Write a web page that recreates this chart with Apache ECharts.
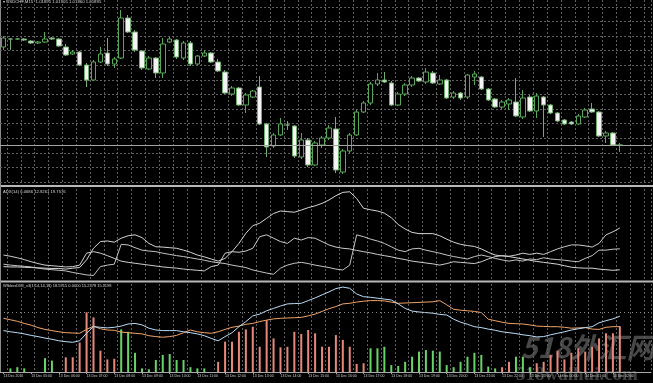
<!DOCTYPE html>
<html><head><meta charset="utf-8">
<script src="https://cdn.jsdelivr.net/npm/echarts@6/dist/echarts.min.js"></script>
<style>html,body{margin:0;padding:0;background:#000;overflow:hidden}#c{width:653px;height:383px}</style>
</head><body><div id="c"></div>
<script>
const categories = [
'13 Dec 04:00','13 Dec 04:15','13 Dec 04:30','13 Dec 04:45','13 Dec 05:00','13 Dec 05:15','13 Dec 05:30','13 Dec 05:45',
'13 Dec 06:00','13 Dec 06:15','13 Dec 06:30','13 Dec 06:45','13 Dec 07:00','13 Dec 07:15','13 Dec 07:30','13 Dec 07:45',
'13 Dec 08:00','13 Dec 08:15','13 Dec 08:30','13 Dec 08:45','13 Dec 09:00','13 Dec 09:15','13 Dec 09:30','13 Dec 09:45',
'13 Dec 10:00','13 Dec 10:15','13 Dec 10:30','13 Dec 10:45','13 Dec 11:00','13 Dec 11:15','13 Dec 11:30','13 Dec 11:45',
'13 Dec 12:00','13 Dec 12:15','13 Dec 12:30','13 Dec 12:45','13 Dec 13:00','13 Dec 13:15','13 Dec 13:30','13 Dec 13:45',
'13 Dec 14:00','13 Dec 14:15','13 Dec 14:30','13 Dec 14:45','13 Dec 15:00','13 Dec 15:15','13 Dec 15:30','13 Dec 15:45',
'13 Dec 16:00','13 Dec 16:15','13 Dec 16:30','13 Dec 16:45','13 Dec 17:00','13 Dec 17:15','13 Dec 17:30','13 Dec 17:45',
'13 Dec 18:00','13 Dec 18:15','13 Dec 18:30','13 Dec 18:45','13 Dec 19:00','13 Dec 19:15','13 Dec 19:30','13 Dec 19:45',
'13 Dec 20:00','13 Dec 20:15','13 Dec 20:30','13 Dec 20:45','13 Dec 21:00','13 Dec 21:15','13 Dec 21:30','13 Dec 21:45',
'13 Dec 22:00','13 Dec 22:15','13 Dec 22:30','13 Dec 22:45','13 Dec 23:00','13 Dec 23:15','13 Dec 23:30','13 Dec 23:45',
'14 Dec 00:00','14 Dec 00:15','14 Dec 00:30','14 Dec 00:45','14 Dec 01:00','14 Dec 01:15','14 Dec 01:30','14 Dec 01:45',
'14 Dec 02:00','14 Dec 02:15','14 Dec 02:30','14 Dec 02:45','14 Dec 03:00','14 Dec 03:15'];

const tickLabels = {0:'13 Dec 2016',4:'13 Dec 05:00',8:'13 Dec 06:00',12:'13 Dec 07:00',16:'13 Dec 08:00',20:'13 Dec 09:00',
24:'13 Dec 10:00',28:'13 Dec 11:00',32:'13 Dec 12:00',36:'13 Dec 13:00',40:'13 Dec 14:00',44:'13 Dec 15:00',48:'13 Dec 16:00',
52:'13 Dec 17:00',56:'13 Dec 18:00',60:'13 Dec 19:00',64:'13 Dec 20:00',68:'13 Dec 21:00',72:'13 Dec 22:00',76:'13 Dec 23:00',
80:'14 Dec 00:00',84:'14 Dec 01:00',88:'14 Dec 02:00'};

const opens = [1.02385,1.02425,1.02425,1.02425,1.02415,1.02405,1.02410,1.02430,1.02425,1.02385,
1.02350,1.02360,1.02295,1.02220,1.02310,1.02355,1.02300,1.02330,1.02530,1.02460,
1.02365,1.02275,1.02330,1.02255,1.02410,1.02420,1.02330,1.02405,1.02300,1.02340,
1.02355,1.02310,1.02260,1.02150,1.02180,1.02095,1.02135,1.02185,1.02000,1.01890,
1.01945,1.01995,1.01990,1.01835,1.01920,1.01795,1.01895,1.01930,1.01975,1.01760,
1.01865,1.01945,1.02060,1.02105,1.02200,1.02220,1.02205,1.02095,1.02150,1.02195,
1.02230,1.02210,1.02255,1.02200,1.02220,1.02135,1.02155,1.02135,1.02235,1.02235,
1.02175,1.02125,1.02085,1.02100,1.02110,1.02035,1.02135,1.02065,1.02135,1.02095,
1.02055,1.02020,1.02010,1.02000,1.02035,1.02075,1.02060,1.01940,1.01955,1.01895];
const closes = [1.02430,1.02425,1.02425,1.02420,1.02405,1.02410,1.02425,1.02425,1.02390,1.02345,
1.02360,1.02295,1.02220,1.02310,1.02350,1.02300,1.02325,1.02530,1.02460,1.02370,
1.02280,1.02330,1.02255,1.02400,1.02425,1.02335,1.02405,1.02300,1.02340,1.02355,
1.02310,1.02265,1.02155,1.02180,1.02095,1.02145,1.02165,1.02000,1.01885,1.01945,
1.02000,1.01995,1.01840,1.01920,1.01795,1.01905,1.01930,1.01980,1.01770,1.01865,
1.01945,1.02060,1.02105,1.02200,1.02220,1.02210,1.02095,1.02150,1.02195,1.02230,
1.02215,1.02260,1.02205,1.02220,1.02130,1.02155,1.02130,1.02245,1.02250,1.02175,
1.02120,1.02085,1.02110,1.02120,1.02040,1.02130,1.02065,1.02140,1.02095,1.02055,
1.02015,1.02000,1.02000,1.02040,1.02070,1.02060,1.01940,1.01955,1.01895,1.01895];
const lows = [1.02370,1.02370,1.02420,1.02415,1.02400,1.02400,1.02405,1.02420,1.02385,1.02340,
1.02345,1.02290,1.02185,1.02215,1.02305,1.02290,1.02280,1.02325,1.02455,1.02360,
1.02270,1.02270,1.02230,1.02230,1.02405,1.02325,1.02320,1.02290,1.02295,1.02335,
1.02305,1.02260,1.02150,1.02140,1.02090,1.02055,1.02130,1.01995,1.01835,1.01880,
1.01940,1.01970,1.01830,1.01825,1.01785,1.01790,1.01880,1.01920,1.01755,1.01750,
1.01855,1.01940,1.02055,1.02095,1.02190,1.02205,1.02090,1.02090,1.02140,1.02185,
1.02210,1.02200,1.02200,1.02195,1.02125,1.02125,1.02120,1.02125,1.02195,1.02170,
1.02115,1.02080,1.02075,1.02070,1.02035,1.02025,1.02060,1.02030,1.01935,1.02050,
1.02010,1.01995,1.01995,1.01995,1.02030,1.02055,1.01935,1.01905,1.01890,1.01860];
const highs = [1.02440,1.02430,1.02430,1.02430,1.02420,1.02415,1.02460,1.02435,1.02430,1.02400,
1.02370,1.02365,1.02305,1.02320,1.02385,1.02430,1.02335,1.02570,1.02545,1.02470,
1.02370,1.02340,1.02335,1.02430,1.02435,1.02425,1.02415,1.02415,1.02345,1.02370,
1.02360,1.02325,1.02270,1.02190,1.02185,1.02155,1.02170,1.02240,1.02005,1.01955,
1.02030,1.02015,1.01995,1.01955,1.01930,1.01915,1.01940,1.01995,1.02035,1.01875,
1.01955,1.02070,1.02115,1.02210,1.02255,1.02260,1.02215,1.02160,1.02205,1.02240,
1.02235,1.02280,1.02265,1.02245,1.02225,1.02165,1.02160,1.02250,1.02265,1.02240,
1.02180,1.02130,1.02120,1.02130,1.02230,1.02170,1.02145,1.02155,1.02140,1.02100,
1.02060,1.02025,1.02015,1.02050,1.02080,1.02105,1.02065,1.01965,1.01960,1.01905];

const adxMain = [7.1,7.0,7.0,6.9,6.8,6.7,6.6,6.5,6.5,6.3,
6.6,6.8,9.3,13.1,15.3,15.5,15.1,16.4,17.2,17.5,
16.6,14.7,13.6,13.5,13.3,13.1,12.5,11.8,10.9,10.3,
9.6,8.9,9.8,12.0,14.7,18.0,20.5,21.3,22.9,24.5,
25.3,25.1,24.9,25.6,26.4,27.0,27.8,28.9,30.3,31.4,
31.6,29.4,26.2,25.7,25.3,24.6,23.1,20.9,19.4,18.3,
17.9,17.9,17.9,17.2,16.1,15.1,14.4,14.0,13.7,12.9,
11.8,10.9,10.6,10.4,10.0,9.6,9.2,8.8,8.5,8.2,
7.9,7.4,6.9,6.7,6.6,6.6,6.3,6.1,5.9,6.07];
const plusDI = [7.9,7.6,7.4,7.2,7.0,6.6,6.3,6.1,5.9,5.7,
5.2,4.8,4.4,4.2,7.1,7.6,7.9,14.4,14.2,13.3,
12.5,12.2,12.0,11.5,11.1,10.7,10.4,10.0,9.6,9.2,
8.7,8.4,8.1,7.6,7.2,6.8,6.0,5.5,5.0,4.6,
6.6,7.6,8.2,8.5,8.1,7.6,7.2,6.8,6.3,6.0,
7.6,17.5,16.9,16.1,15.5,14.7,13.6,12.5,12.0,12.9,
13.1,12.5,12.0,11.5,10.9,10.4,10.0,9.6,10.4,10.9,
10.4,9.8,9.3,8.9,9.3,8.9,9.6,9.4,10.0,9.6,
9.4,9.2,8.9,8.7,9.8,10.7,12.5,12.5,12.8,12.93];
const minusDI = [10.9,10.5,10.0,9.4,8.7,8.1,7.6,7.4,7.2,7.0,
7.1,7.6,11.5,12.0,11.5,10.7,9.8,8.9,8.5,8.2,
7.9,7.6,7.3,7.0,6.8,6.6,6.3,6.1,5.9,5.7,
7.1,7.6,11.5,12.0,11.8,12.2,13.1,16.9,17.5,16.4,
15.3,14.7,16.4,15.8,16.6,16.4,15.3,14.2,13.5,13.1,
12.9,12.4,12.0,11.6,11.1,10.7,10.3,9.8,9.4,8.9,
8.6,8.3,8.0,7.6,8.1,8.7,8.5,8.3,8.1,8.7,
9.6,10.4,10.7,10.5,10.9,11.5,11.1,11.5,11.1,12.0,
12.9,13.6,14.2,14.2,13.9,13.5,14.7,17.5,18.5,19.76];

const dmiPlusLine = [13.8,13.4,13.1,12.7,12.2,11.8,11.3,10.9,10.4,10.1,
9.9,10.4,12.9,15.1,14.9,14.7,14.9,15.3,16.0,16.2,
15.7,14.6,14.0,13.8,13.8,13.8,13.4,13.1,12.7,12.1,
11.2,10.4,11.8,13.1,15.1,16.8,18.7,19.3,20.4,21.2,
22.0,22.7,22.8,22.9,23.8,24.7,25.7,26.7,27.8,28.3,
27.9,26.0,25.1,24.9,24.6,24.3,24.0,22.7,21.2,20.3,
20.0,19.8,19.6,19.2,19.0,17.6,16.6,15.9,15.1,14.8,
14.3,13.9,13.4,13.1,12.8,12.4,12.1,11.7,11.8,12.4,
12.9,13.4,14.0,14.4,14.8,15.1,16.4,17.1,17.7,18.59];
const dmiMinusLine = [17.9,17.4,16.9,16.2,15.6,14.8,14.2,13.8,13.4,13.1,
13.0,12.9,14.2,15.3,14.4,14.0,13.9,13.3,13.1,12.9,
12.7,12.1,11.8,11.6,11.8,12.2,13.1,14.0,13.4,13.1,
12.9,13.4,14.2,14.9,15.3,15.9,16.2,16.8,17.3,17.7,
17.9,18.0,18.1,18.2,18.7,19.3,20.2,21.1,21.8,22.7,
22.9,23.3,23.6,23.8,23.8,23.7,23.3,22.9,23.0,23.1,
23.2,23.3,23.4,23.8,22.4,20.9,20.6,20.4,20.2,19.8,
17.6,17.1,16.6,16.2,16.1,16.0,15.7,15.3,15.2,15.1,
15.1,14.9,14.6,14.7,14.8,14.3,14.2,14.9,15.1,15.12];
const histDown = [null,null,null,null,null,null,null,null,null,4.9,
4.9,9.8,19.9,18.2,7.1,4.2,4.4,null,null,null,
null,null,null,null,null,null,null,null,null,null,
null,3.4,10.1,10.1,13.4,14.2,15.1,8.4,17.3,11.2,
8.2,8.4,13.4,12.7,14.0,12.9,8.4,8.4,12.3,10.7,
8.4,2.7,2.9,null,null,null,null,null,null,null,
null,null,null,null,null,null,null,null,null,null,
null,null,1.6,3.4,null,null,null,2.9,3.4,5.7,
7.1,4.2,6.4,7.9,6.8,8.4,11.2,12.9,12.9,15.24];
const histUp = [null,1.2,1.6,1.2,null,null,4.6,3.8,null,null,
null,null,null,null,null,null,null,14.2,13.4,6.4,
1.2,0.9,4.0,5.7,6.0,4.0,4.0,1.6,1.2,1.2,
null,null,null,null,null,null,null,null,null,null,
null,null,null,null,null,null,null,null,null,null,
null,null,null,7.9,7.9,8.4,2.3,2.0,3.4,5.1,
6.8,7.3,7.1,6.8,2.3,1.6,3.4,5.1,6.4,5.7,
1.8,1.2,null,null,5.1,5.1,1.6,null,null,null,
null,null,null,null,null,null,null,null,null,null];

const candles = opens.map((o, i) => [o, closes[i], lows[i], highs[i]]);
const FONT = 'Liberation Sans';
const gridDash = {color: '#5e5e5e', type: [2, 2], width: 1};

function xAxisFor(i) {
  return {
    type: 'category', gridIndex: i, data: categories, boundaryGap: true,
    axisLine: {show: i === 2, lineStyle: {color: '#a8a8a8', width: 1}},
    axisTick: {show: i === 2, alignWithLabel: true, length: 2, interval: (idx) => idx in tickLabels, lineStyle: {color: '#a8a8a8'}},
    axisLabel: {show: i === 2, interval: (idx) => idx in tickLabels, formatter: (v, idx) => tickLabels[idx] || '',
      color: '#cfcfcf', fontSize: 3.5, fontFamily: FONT, align: 'left', margin: 2},
    splitLine: {show: true, interval: (idx) => idx % 2 === 1, lineStyle: gridDash}
  };
}
const hidden = {axisLine: {show: false}, axisTick: {show: false}, axisLabel: {show: false}};

const option = {
  backgroundColor: '#000',
  animation: false,
  grid: [
    {left: 0, right: 2, top: 0, height: 182},
    {left: 0, right: 2, top: 189, height: 92},
    {left: 0, right: 2, top: 284, height: 88}
  ],
  xAxis: [xAxisFor(0), xAxisFor(1), xAxisFor(2)],
  yAxis: [
    Object.assign({type: 'value', gridIndex: 0, min: 1.01710, max: 1.02620, scale: true, splitLine: {show: false}}, hidden),
    Object.assign({type: 'value', gridIndex: 0, min: 0, max: 12.466, interval: 1,
      splitLine: {show: true, showMaxLine: false, showMinLine: true, lineStyle: gridDash}}, hidden),
    Object.assign({type: 'value', gridIndex: 1, min: 2.4, max: 32.5, splitLine: {show: false}}, hidden),
    Object.assign({type: 'value', gridIndex: 2, min: 0, max: 29.33, splitLine: {show: false}}, hidden)
  ],
  series: [
    {type: 'candlestick', xAxisIndex: 0, yAxisIndex: 0, data: candles, barWidth: 5,
      itemStyle: {color: '#000', color0: '#f4f4f4', borderColor: '#56a856', borderColor0: '#6fae6f', borderWidth: 1},
      markLine: {silent: true, symbol: 'none', precision: 5, label: {show: false},
        lineStyle: {color: '#a4a4a4', type: 'solid', width: 1},
        data: [{yAxis: closes[closes.length - 1]}]}},
    {type: 'line', xAxisIndex: 1, yAxisIndex: 2, data: adxMain, showSymbol: false, lineStyle: {color: '#d6d6d6', width: 1}},
    {type: 'line', xAxisIndex: 1, yAxisIndex: 2, data: plusDI, showSymbol: false, lineStyle: {color: '#c4c4c4', width: 1}},
    {type: 'line', xAxisIndex: 1, yAxisIndex: 2, data: minusDI, showSymbol: false, lineStyle: {color: '#cccccc', width: 1}},
    {type: 'bar', xAxisIndex: 2, yAxisIndex: 3, data: histDown, barWidth: 2, barGap: '-100%', itemStyle: {color: '#e8887a'}},
    {type: 'bar', xAxisIndex: 2, yAxisIndex: 3, data: histUp, barWidth: 2, barGap: '-100%', itemStyle: {color: '#66d466'}},
    {type: 'line', xAxisIndex: 2, yAxisIndex: 3, data: dmiMinusLine, showSymbol: false, lineStyle: {color: '#f0a468', width: 1}},
    {type: 'line', xAxisIndex: 2, yAxisIndex: 3, data: dmiPlusLine, showSymbol: false, lineStyle: {color: '#b8dcf8', width: 1},
      markLine: {silent: true, symbol: 'none', precision: 2, label: {show: false},
        lineStyle: {color: '#8c8c8c', type: [1, 3], width: 1}, data: [{yAxis: 20}]}}
  ],
  graphic: [
    {type: 'rect', shape: {x: 0, y: 185, width: 653, height: 2}, style: {fill: '#b8b8b8'}, silent: true},
    {type: 'rect', shape: {x: 0, y: 280.5, width: 653, height: 2}, style: {fill: '#b8b8b8'}, silent: true},
    {type: 'rect', shape: {x: 0, y: 0, width: 1, height: 372}, style: {fill: '#8a8a8a'}, silent: true},
    {type: 'text', x: 3, y: 0, style: {text: '\u25BE USDCHF,M15  1.01895 1.01905 1.01860 1.01895', fill: '#d4d4d4', font: '4.3px ' + FONT}},
    {type: 'text', x: 3, y: 189.5, style: {text: 'ADX(14) 6.0686 12.9261 19.7576', fill: '#d4d4d4', font: '4.2px ' + FONT}},
    {type: 'text', x: 3, y: 284, style: {text: 'WildersDMI_v3(1,14,14,14) 18.5915 0.0000 15.2378 15.1198', fill: '#d4d4d4', font: '4px ' + FONT}},
    {type: 'text', x: 521, y: 333, style: {text: '518外汇网', fill: 'rgba(190,190,190,0.38)', font: 'italic bold 28px "Noto Sans CJK SC"'}},
    {type: 'text', x: 516, y: 366, style: {text: '518waihui.com', fill: 'rgba(190,190,190,0.32)', font: 'bold 19px "Liberation Serif"'}}
  ]
};
const chart = echarts.init(document.getElementById('c'), null, {renderer: 'canvas'});
chart.setOption(option);
</script>
</body></html>
